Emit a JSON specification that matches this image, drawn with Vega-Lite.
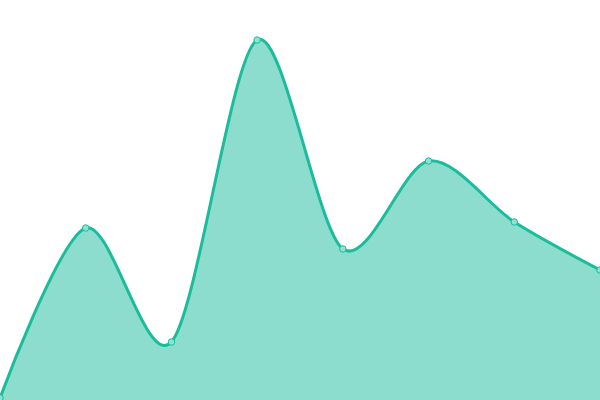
{
  "$schema": "https://vega.github.io/schema/vega-lite/v6.json",
  "description": "Smoothed area chart with point markers.",
  "autosize": "none",
  "width": 600,
  "height": 400,
  "padding": 0,
  "data": {
    "values": [
      {"i": 0, "v": 2},
      {"i": 1, "v": 172},
      {"i": 2, "v": 58},
      {"i": 3, "v": 360},
      {"i": 4, "v": 151},
      {"i": 5, "v": 239},
      {"i": 6, "v": 178},
      {"i": 7, "v": 130}
    ]
  },
  "encoding": {
    "x": {
      "field": "i",
      "type": "quantitative",
      "scale": {"domain": [0, 7], "nice": false, "zero": false},
      "axis": null
    },
    "y": {
      "field": "v",
      "type": "quantitative",
      "scale": {"domain": [0, 400], "nice": false},
      "axis": null
    }
  },
  "layer": [
    {
      "mark": {
        "type": "area",
        "interpolate": "cardinal",
        "tension": 0.1,
        "fill": "#1abc9c",
        "fillOpacity": 0.5,
        "line": {"color": "#1abc9c", "strokeWidth": 3}
      }
    },
    {
      "mark": {
        "type": "point",
        "filled": true,
        "size": 42,
        "fill": "#8fe2d1",
        "fillOpacity": 1,
        "stroke": "#1abc9c",
        "strokeWidth": 1,
        "opacity": 1
      }
    }
  ],
  "config": {"view": {"stroke": null}}
}
